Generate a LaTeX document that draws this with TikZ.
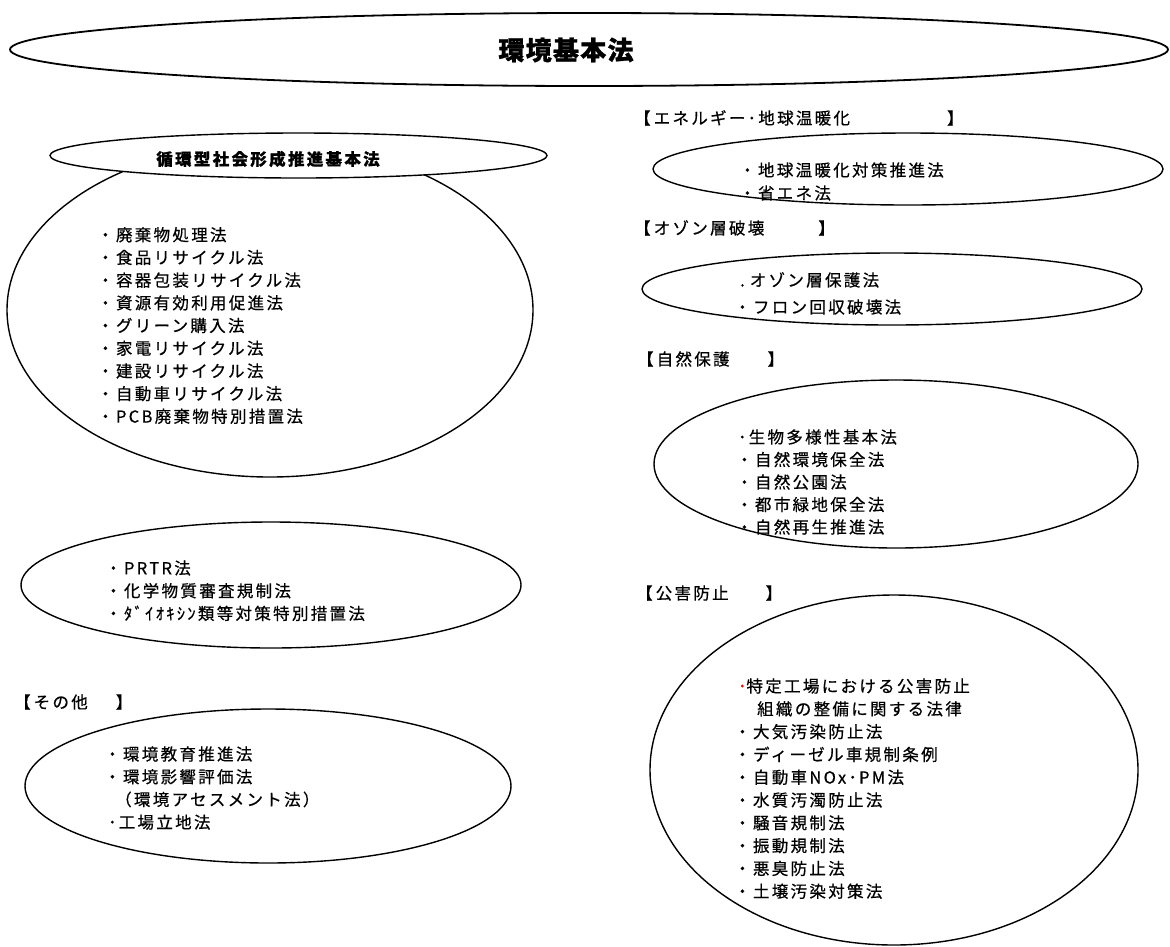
\documentclass[tikz,border=0pt]{standalone}
\usepackage{fontspec}
\usetikzlibrary{shapes.geometric}
\newfontfamily\jp{Noto Sans CJK JP}[LetterSpace=14,FakeBold=0.6]
\newfontfamily\jpt{Noto Sans CJK JP}[LetterSpace=5,FakeBold=1]
\begin{document}
\begin{tikzpicture}[x=1pt,y=-1pt,
  oval/.style={draw, ellipse, line width=1.4pt, inner sep=0pt, fill=white},
  lst/.style={anchor=base west, inner sep=0pt, align=left, font=\jp\fontsize{16.5}{22.7}\selectfont},
  lbl/.style={anchor=base west, inner sep=0pt, font=\jp\fontsize{16.5}{20}\selectfont},
]
\useasboundingbox[fill=white] (0,0) rectangle (1170,946);

% ellipses
\node[oval, line width=1.8pt, minimum width=1158pt, minimum height=73pt] (kihon) at (589,49.5) {};
\node[oval, minimum width=526pt, minimum height=334pt] (junkan) at (270,310) {};
\node[oval, minimum width=497pt, minimum height=45pt] (junkanH) at (298.5,155.5) {};
\node[oval, minimum width=500pt, minimum height=126pt] (prtr) at (271,585) {};
\node[oval, minimum width=486pt, minimum height=154pt] (other) at (268,786) {};
\node[oval, minimum width=510pt, minimum height=72pt] (energy) at (908,169) {};
\node[oval, minimum width=500pt, minimum height=72pt] (ozone) at (892,289) {};
\node[oval, minimum width=484pt, minimum height=168pt] (nature) at (896,464) {};
\node[oval, minimum width=488pt, minimum height=350pt] (pollution) at (894,770) {};

% titles
\node[inner sep=0pt, font=\jpt\bfseries\fontsize{26}{30}\selectfont] (kihonT) at (566,50) {環境基本法};
\node[inner sep=0pt, font=\jp\bfseries\fontsize{16.5}{20}\selectfont] (junkanT) at (268,159) {循環型社会形成推進基本法};

% lists (base anchor = baseline of the last line)
\node[lst] (junkanL) at (97,422.6) {・廃棄物処理法\\・食品リサイクル法\\・容器包装リサイクル法\\・資源有効利用促進法\\・グリーン購入法\\・家電リサイクル法\\・建設リサイクル法\\・自動車リサイクル法\\・PCB廃棄物特別措置法};
\node[lst] (prtrL) at (105,619.7) {・PRTR法\\・化学物質審査規制法\\・ﾀﾞｲｵｷｼﾝ類等対策特別措置法};
\node[lst] (otherL) at (104,828.4) {・環境教育推進法\\・環境影響評価法\\\hspace*{11pt}（環境アセスメント法）\\\hspace*{4pt}･工場立地法};
\node[lst, font=\jp\fontsize{16.5}{23}\selectfont] (energyL) at (739,199.3) {・地球温暖化対策推進法\\・省エネ法};
\node[lst, font=\jp\fontsize{16.5}{27}\selectfont] (ozoneL) at (734,313.3) {\hspace*{6pt}.\hspace*{5pt}オゾン層保護法\\・フロン回収破壊法};
\node[lst, font=\jp\fontsize{16.5}{22.5}\selectfont] (natureL) at (736,533.3) {\hspace*{2pt}･生物多様性基本法\\・自然環境保全法\\・自然公園法\\・都市緑地保全法\\・自然再生推進法};
\node[lst, font=\jp\fontsize{16.5}{22.8}\selectfont] (pollutionL) at (734,897.5) {\hspace*{4pt}\textcolor{red}{･}特定工場における公害防止\\\hspace*{23pt}組織の整備に関する法律\\・大気汚染防止法\\・ディーゼル車規制条例\\・自動車NOx･PM法\\・水質汚濁防止法\\・騒音規制法\\・振動規制法\\・悪臭防止法\\・土壌汚染対策法};

% section labels
\node[lbl] (energyH) at (634,124.3) {【\hspace{3pt}エネルギー･地球温暖化\hspace{97pt}】};
\node[lbl] (ozoneH) at (634,234.3) {【\hspace{3pt}オゾン層破壊\hspace{54pt}】};
\node[lbl] (natureH) at (637,365.3) {【\hspace{3pt}自然保護\hspace{38pt}】};
\node[lbl] (pollutionH) at (636,599.3) {【\hspace{3pt}公害防止\hspace{37pt}】};
\node[lbl] (otherH) at (14,708.3) {【\hspace{3pt}その他\hspace{28pt}】};
\end{tikzpicture}
\end{document}
